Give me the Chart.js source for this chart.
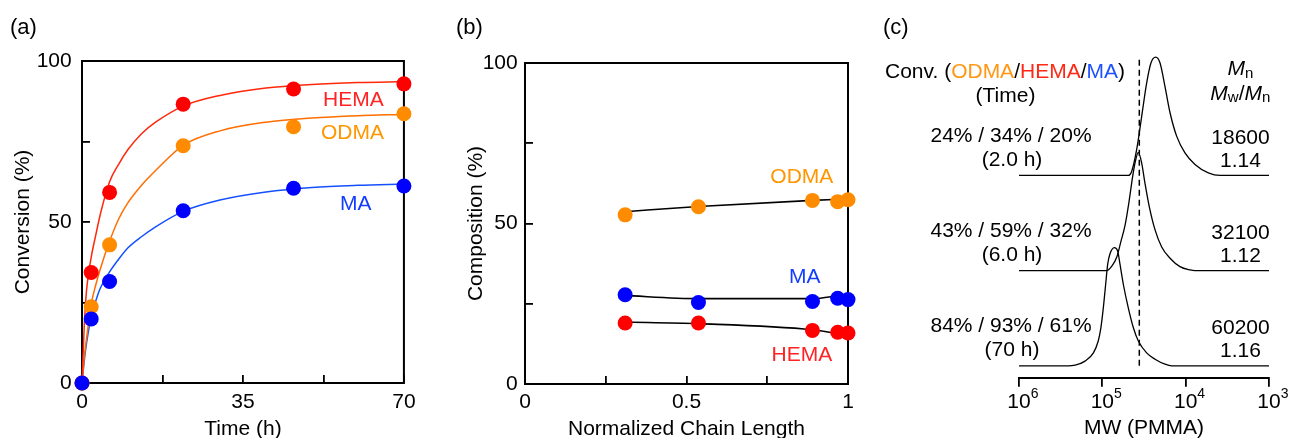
<!DOCTYPE html>
<html>
<head>
<meta charset="utf-8">
<script src="https://cdn.jsdelivr.net/npm/chart.js@4.4.1/dist/chart.umd.min.js"></script>
<style>
  html, body { margin: 0; padding: 0; background: #fff; overflow: hidden; }
  #wrap { position: relative; width: 1289px; height: 438px; overflow: hidden; }
  canvas { position: absolute; top: 0; }
</style>
</head>
<body>
<div id="wrap">
  <canvas id="chartA" width="430" height="450" style="left:0"></canvas>
  <canvas id="chartB" width="430" height="450" style="left:440px"></canvas>
  <canvas id="chartC" width="419" height="450" style="left:870px"></canvas>
</div>
<script>
// (a) conversion vs time
const times = [0, 2, 6, 22, 46, 70]
const convHEMA = [0, 34.3, 59.2, 86.6, 91.3, 92.9]
const convODMA = [0, 23.7, 42.9, 73.7, 79.6, 83.6]
const convMA = [0, 19.9, 31.5, 53.5, 60.5, 61.2]

// fitted curves
const fitTimes = [0, 0.5, 1, 2, 3, 4, 6, 8, 10, 13, 16, 22, 30, 40, 50, 60, 70]
const fitHEMA = [0, 18, 29, 39, 46, 52.5, 62.5, 68, 72.5, 77.5, 81, 86, 89.3, 91.6, 92.7, 93.3, 93.6]
const fitODMA = [0, 8, 14, 24.5, 30.5, 35.5, 44, 51, 56, 61.5, 66, 73.8, 78.3, 81, 82.3, 83, 83.4]
const fitMA = [0, 7, 12.5, 20.5, 25.5, 29.5, 34.5, 38.5, 42, 45.5, 48.5, 53.3, 56.8, 59.3, 60.7, 61.4, 61.8]

const timeTicks = [0, 17.5, 35, 52.5, 70]
const timeTickLabels = ['0', '', '35', '', '70']
const pctTicks = [0, 25, 50, 75, 100]
const pctTickLabels = ['0', '', '50', '', '100']

// (b) composition vs normalized chain length
const chainLen = [0.31, 0.537, 0.89, 0.968, 1.0]
const compODMA = [52.7, 55.2, 57.2, 56.8, 57.4]
const compMA = [27.8, 25.4, 25.7, 26.7, 26.3]
const compHEMA = [19.0, 19.0, 16.7, 16.1, 15.9]
const trendLenODMA = [0.3, 0.537, 0.89, 0.99]
const trendODMA = [53.6, 55.3, 57.2, 57.6]
const trendLen = [0.3, 0.537, 0.89, 0.975]
const trendMA = [27.6, 26.6, 26.6, 27.6]
const trendHEMA = [19.3, 18.8, 16.9, 15.6]

const lenTicks = [0, 0.25, 0.5, 0.75, 1]
const lenTickLabels = ['0', '', '0.5', '', '1']

// (c) GPC traces, high MW -> low MW, normalized intensity
const mw2h = [1e6, 48800, 44400, 38700, 33700, 29400, 26100, 22900, 20300, 17700, 15400, 12800, 10200, 7730, 5350, 3870, 1000]
const rd2h = [0, 0, 0.036, 0.22, 0.5, 0.78, 0.95, 1.0, 0.95, 0.75, 0.53, 0.33, 0.19, 0.093, 0.022, 0, 0]
const mw6h = [1e6, 88700, 76600, 66700, 59700, 53500, 47900, 43200, 40000, 37000, 33700, 30800, 27300, 23300, 19400, 15400, 11700, 8870, 7730, 1000]
const rd6h = [0, 0, 0.04, 0.12, 0.25, 0.38, 0.58, 0.8, 0.93, 1.0, 0.91, 0.74, 0.54, 0.345, 0.2, 0.105, 0.034, 0.006, 0, 0]
const mw70h = [1e6, 256000, 213000, 161000, 128000, 112000, 104000, 97300, 91200, 86200, 80900, 71800, 65400, 61400, 56000, 48800, 42500, 37000, 29400, 23300, 17700, 14700, 1000]
const rd70h = [0, 0, 0.006, 0.04, 0.11, 0.21, 0.324, 0.49, 0.69, 0.86, 0.948, 1.0, 0.97, 0.86, 0.69, 0.49, 0.324, 0.21, 0.11, 0.056, 0.014, 0, 0]
const refMW = 36000
const mwTicks = [1e6, 1e5, 1e4, 1e3]

const convLabels = ['24% / 34% / 20%', '43% / 59% / 32%', '84% / 93% / 61%']
const timeLabels = ['(2.0 h)', '(6.0 h)', '(70 h)']
const mnLabels = ['18600', '32100', '60200']
const pdiLabels = ['1.14', '1.12', '1.16']

const FONT = "'Liberation Sans', Arial, Helvetica, sans-serif"
const font = (size, italic) => (italic ? 'italic ' : '') + size + 'px ' + FONT

const RED = 'rgb(255,0,0)'
const ORANGE = 'rgb(255,140,0)'
const BLUE = 'rgb(0,0,255)'

const xy = (xs, ys, off) => xs.map((x, i) => ({ x: x, y: ys[i] + (off || 0) }))

// draw pieces of text with their own font/colour one after the other
function drawRuns (ctx, runs, x, y, align) {
  ctx.save()
  ctx.textBaseline = 'alphabetic'
  ctx.textAlign = 'left'
  let w = 0
  runs.forEach(r => { ctx.font = r.font; r.w = ctx.measureText(r.text).width; w += r.w })
  let cx = align === 'center' ? x - w / 2 : align === 'right' ? x - w : x
  runs.forEach(r => {
    ctx.font = r.font
    ctx.fillStyle = r.color || '#000'
    ctx.fillText(r.text, cx, y + (r.dy || 0))
    cx += r.w
  })
  ctx.restore()
}

const framePlugin = {
  id: 'frame',
  beforeDatasetsDraw (chart) {
    const { left, top, right, bottom } = chart.chartArea
    const ctx = chart.ctx
    ctx.save()
    ctx.strokeStyle = '#000'
    ctx.lineWidth = 2
    ctx.strokeRect(left, top, right - left, bottom - top)
    ctx.restore()
  }
}

// panel letter + series names placed in data units
function notesPlugin (panel, notes) {
  return {
    id: 'notes',
    afterDraw (chart) {
      const ctx = chart.ctx
      drawRuns(ctx, [{ text: panel.text, font: font(22) }], panel.x, panel.y, 'left')
      notes.forEach(n => {
        const px = chart.scales.x.getPixelForValue(n.x)
        const py = chart.scales.y.getPixelForValue(n.y) + 7.5
        drawRuns(ctx, [{ text: n.text, font: font(21), color: n.color }], px, py, 'center')
      })
    }
  }
}

function tickScale (ticks, labels, title, pos, tickPad, titlePad) {
  return {
    type: 'linear',
    position: pos,
    min: ticks[0],
    max: ticks[ticks.length - 1],
    afterBuildTicks: s => { s.ticks = ticks.map(v => ({ value: v })) },
    ticks: {
      autoSkip: false,
      maxRotation: 0,
      padding: tickPad,
      color: '#000',
      font: { size: 21, family: FONT },
      callback: (v, i) => labels[i]
    },
    grid: { drawOnChartArea: false, tickLength: -8, lineWidth: 1.8, color: '#000' },
    border: { display: false },
    title: {
      display: true,
      text: title,
      color: '#000',
      font: { size: 21, family: FONT },
      padding: pos === 'left' ? { top: titlePad, bottom: 0 } : { top: 0, bottom: titlePad }
    }
  }
}

function pointSet (data, color, order) {
  return { data: data, showLine: false, pointRadius: 7.5, pointHoverRadius: 7.5, pointBorderWidth: 0, backgroundColor: color, borderColor: color, order: order, clip: false }
}
function curveSet (data, color, width, order) {
  return { data: data, borderColor: color, borderWidth: width, pointRadius: 0, cubicInterpolationMode: 'monotone', fill: false, order: order, clip: false }
}

const base = {
  responsive: false,
  animation: false,
  events: [],
  plugins: { legend: { display: false }, tooltip: { enabled: false } }
}

// (a)
const xA = tickScale(timeTicks, timeTickLabels, 'Time (h)', 'bottom', 14.4, 8.4)
xA.afterFit = s => { s.height = 450 - 383 }
const yA = tickScale(pctTicks, pctTickLabels, 'Conversion (%)', 'left', 18.3, 10.4)
yA.afterFit = s => { s.width = 82 }
new Chart(document.getElementById('chartA'), {
  type: 'line',
  data: {
    datasets: [
      curveSet(xy(fitTimes, fitHEMA), 'rgb(255,40,10)', 1.5, 5),
      curveSet(xy(fitTimes, fitODMA), 'rgb(255,110,0)', 1.5, 5),
      curveSet(xy(fitTimes, fitMA), 'rgb(20,80,255)', 1.5, 5),
      pointSet(xy(times, convHEMA), RED, 2),
      pointSet(xy(times, convODMA), ORANGE, 1),
      pointSet(xy(times, convMA), BLUE, 0)
    ]
  },
  options: Object.assign({}, base, {
    layout: { padding: { left: 0, top: 61, right: 22, bottom: 0 } },
    scales: { x: xA, y: yA }
  }),
  plugins: [framePlugin, notesPlugin({ text: '(a)', x: 10, y: 34 }, [
    { text: 'HEMA', x: 59.0, y: 88.5, color: 'rgb(255,35,35)' },
    { text: 'ODMA', x: 58.8, y: 78.0, color: 'rgb(255,150,0)' },
    { text: 'MA', x: 59.5, y: 56.2, color: 'rgb(20,60,255)' }
  ])]
})

// (b)
const xB = tickScale(lenTicks, lenTickLabels, 'Normalized Chain Length', 'bottom', 13.9, 8.4)
xB.afterFit = s => { s.height = 450 - 384 }
const yB = tickScale(pctTicks, pctTickLabels, 'Composition (%)', 'left', 15.3, 23.2)
yB.afterFit = s => { s.width = 85 }
new Chart(document.getElementById('chartB'), {
  type: 'line',
  data: {
    datasets: [
      curveSet(xy(trendLenODMA, trendODMA), '#000', 1.6, 5),
      curveSet(xy(trendLen, trendMA), '#000', 1.6, 5),
      curveSet(xy(trendLen, trendHEMA), '#000', 1.6, 5),
      pointSet(xy(chainLen, compODMA), ORANGE, 2),
      pointSet(xy(chainLen, compMA), BLUE, 1),
      pointSet(xy(chainLen, compHEMA), RED, 0)
    ]
  },
  options: Object.assign({}, base, {
    layout: { padding: { left: 0, top: 63, right: 22, bottom: 0 } },
    scales: { x: xB, y: yB }
  }),
  plugins: [framePlugin, notesPlugin({ text: '(b)', x: 16, y: 34 }, [
    { text: 'ODMA', x: 0.857, y: 64.9, color: 'rgb(255,150,0)' },
    { text: 'MA', x: 0.866, y: 33.8, color: 'rgb(20,60,255)' },
    { text: 'HEMA', x: 0.857, y: 9.4, color: 'rgb(255,35,35)' }
  ])]
})

// (c) stacked GPC traces
const stackStep = 0.805
const gpcText = {
  id: 'gpcText',
  afterDraw (chart) {
    const ctx = chart.ctx
    const f = font(21)
    const xs = chart.scales.x
    drawRuns(ctx, [{ text: '(c)', font: font(22) }], 13, 34, 'left')
    drawRuns(ctx, [
      { text: 'Conv. (', font: f },
      { text: 'ODMA', font: f, color: 'rgb(255,150,20)' },
      { text: '/', font: f },
      { text: 'HEMA', font: f, color: 'rgb(255,40,20)' },
      { text: '/', font: f },
      { text: 'MA', font: f, color: 'rgb(30,80,255)' },
      { text: ')', font: f }
    ], 15, 78, 'left')
    drawRuns(ctx, [{ text: '(Time)', font: f }], 135.5, 101.5, 'center')
    drawRuns(ctx, [{ text: 'M', font: font(21, true) }, { text: 'n', font: font(15), dy: 2.5 }], 370.5, 75, 'center')
    drawRuns(ctx, [
      { text: 'M', font: font(21, true) }, { text: 'w', font: font(15), dy: 2 },
      { text: '/', font: f },
      { text: 'M', font: font(21, true) }, { text: 'n', font: font(15), dy: 2 }
    ], 370.3, 100, 'center')
    const rowY = [141.7, 236.7, 331.7]
    convLabels.forEach((t, i) => {
      drawRuns(ctx, [{ text: t, font: f }], 141, rowY[i], 'center')
      drawRuns(ctx, [{ text: timeLabels[i], font: f }], 142, rowY[i] + 24.3, 'center')
      drawRuns(ctx, [{ text: mnLabels[i], font: f }], 370.5, rowY[i] + 2, 'center')
      drawRuns(ctx, [{ text: pdiLabels[i], font: f }], 370.5, rowY[i] + 25.7, 'center')
    })
    // powers of ten under the axis
    mwTicks.forEach(v => {
      const px = xs.getPixelForValue(v)
      ctx.save()
      ctx.font = f
      ctx.fillStyle = '#000'
      ctx.textAlign = 'center'
      ctx.textBaseline = 'alphabetic'
      ctx.fillText('10', px, 408)
      const w = ctx.measureText('10').width
      ctx.font = font(14)
      ctx.textAlign = 'left'
      ctx.fillText(String(Math.round(Math.log10(v))), px + w / 2, 398.3)
      ctx.restore()
    })
  }
}

new Chart(document.getElementById('chartC'), {
  type: 'line',
  data: {
    datasets: [
      curveSet(xy(mw2h, rd2h, 2 * stackStep), '#000', 1.3, 1),
      curveSet(xy(mw6h, rd6h, stackStep), '#000', 1.3, 1),
      curveSet(xy(mw70h, rd70h), '#000', 1.3, 1),
      { data: [{ x: refMW, y: 0 }, { x: refMW, y: 2.61 }], borderColor: '#000', borderWidth: 1.5, borderDash: [6, 4], pointRadius: 0, order: 0, clip: false }
    ]
  },
  options: Object.assign({}, base, {
    layout: { padding: { left: 149, top: 46.5, right: 20, bottom: 0 } },
    scales: {
      x: {
        type: 'logarithmic',
        reverse: true,
        min: 1e3,
        max: 1e6,
        afterBuildTicks: s => { s.ticks = mwTicks.map(v => ({ value: v })) },
        afterFit: s => { s.height = 450 - 377.7 },
        ticks: { autoSkip: false, maxRotation: 0, padding: 0, font: { size: 21, family: FONT }, callback: () => '' },
        grid: { drawOnChartArea: false, tickLength: 9, lineWidth: 1.8, color: '#000' },
        border: { display: true, width: 2, color: '#000' },
        title: { display: true, text: 'MW (PMMA)', color: '#000', font: { size: 21, family: FONT }, padding: { top: 0, bottom: 9.4 } }
      },
      y: { type: 'linear', display: false, min: -0.1, max: 2.7 }
    }
  }),
  plugins: [gpcText]
})
</script>
</body>
</html>
